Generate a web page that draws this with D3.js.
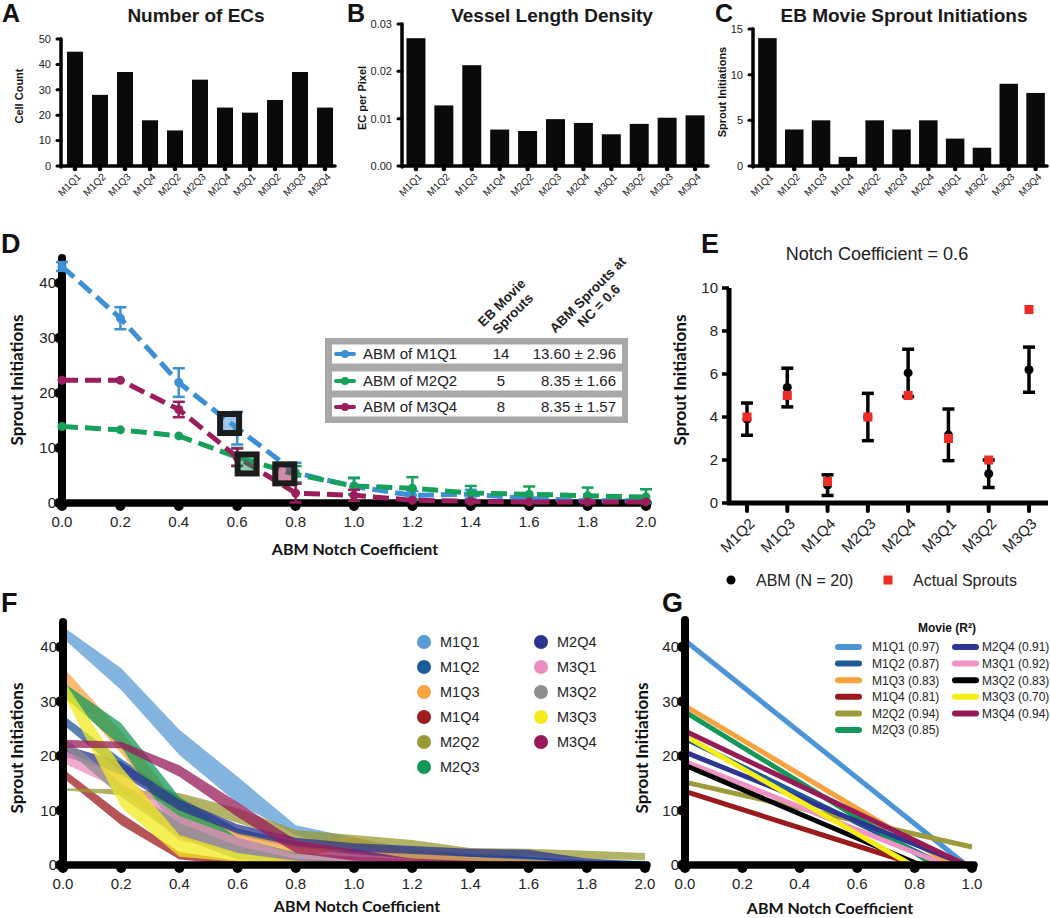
<!DOCTYPE html>
<html><head><meta charset="utf-8">
<script src="https://cdn.jsdelivr.net/npm/d3@7"></script>
<style>body{margin:0;background:#fff}</style>
</head><body>
<script>
// ================= DATA =================
const movies = ["M1Q1","M1Q2","M1Q3","M1Q4","M2Q2","M2Q3","M2Q4","M3Q1","M3Q2","M3Q3","M3Q4"];
const cellCount = [45,28,37,18,14,34,23,21,26,37,23];
const vesselDensity = [0.0270,0.0128,0.0213,0.0077,0.0074,0.0099,0.0091,0.0067,0.0089,0.0102,0.0107];
const ebSprouts = [14,4,5,1,5,4,5,3,2,9,8];
const aTicks = [0,10,20,30,40,50];
const bTicks = [0,0.01,0.02,0.03];
const cTicks = [0,5,10,15];

const ncValues = [0,0.2,0.4,0.6,0.8,1.0,1.2,1.4,1.6,1.8,2.0];
const sproutTicks = [0,10,20,30,40];
// Panel D
const dNames = ["ABM of M1Q1","ABM of M2Q2","ABM of M3Q4"];
const dMean = [
  [43.0,33.6,21.9,13.6,5.5,3.0,1.4,1.6,0.8,0.4,0.4],
  [13.9,13.3,12.2,8.35,5.2,3.1,2.7,1.8,1.6,1.3,1.1],
  [22.3,22.3,17.0,8.35,1.8,1.4,0.5,0.3,0.2,0.2,0.2]
];
const dErr = [
  [0.8,2.0,2.6,2.96,1.8,1.5,0.8,0.8,0.5,0.4,0.3],
  [0.3,0.3,0.3,1.66,1.5,1.5,2.0,1.3,1.4,1.5,1.4],
  [0.3,0.3,1.4,1.57,1.7,1.0,0.5,0.3,0.2,0.2,0.2]
];
const dBoxNC = [0.574,0.634,0.763];
const dBoxVal = [14.45,7.1,5.3];
const dEbMovie = ["14","5","8"];
const dAbmAt06 = ["13.60 ± 2.96","8.35 ± 1.66","8.35 ± 1.57"];
const dHeaders = [["EB Movie","Sprouts"],["ABM Sprouts at","NC = 0.6"]];
// Panel E
const eCats = ["M1Q2","M1Q3","M1Q4","M2Q3","M2Q4","M3Q1","M3Q2","M3Q3"];
const eAbmMean = [3.9,5.37,0.83,4.0,6.05,3.17,1.36,6.2];
const eAbmErr = [0.75,0.9,0.48,1.1,1.1,1.2,0.64,1.05];
const eActual = [4,5,1,4,5,3,2,9];
const eTicks = [0,2,4,6,8,10];
// Panel F (band low / high per movie, at ncValues)
const fLow = [
  [41.6,32.1,20.2,11.3,5.5,2.5,1.0,0.5,0.2,0.1,0.1],
  [25.8,17.0,10.7,5.5,3.1,2.0,1.2,0.8,0.5,0.2,0.1],
  [32.7,20.5,7.5,3.5,1.5,3.0,1.0,0.5,0.2,0.1,0.1],
  [16.0,7.3,1.0,0.0,0.0,0.0,0.0,0.0,0.0,0.0,0.0],
  [13.7,12.8,11.3,7.7,4.6,3.3,2.2,1.8,1.6,1.1,0.9],
  [31.0,21.7,5.1,2.3,0.5,0.2,0.1,0.0,0.0,0.0,0.0],
  [20.0,16.5,10.0,5.8,3.5,2.5,2.0,1.5,1.2,0.2,0.1],
  [18.7,13.8,4.5,2.2,0.2,0.1,0.0,0.0,0.0,0.0,0.0],
  [21.7,12.5,5.0,1.0,0.0,0.0,0.0,0.0,0.0,0.0,0.0],
  [31.5,10.6,1.5,0.6,0.1,0.0,0.0,0.0,0.0,0.0,0.0],
  [21.5,21.4,16.2,8.8,2.2,0.8,0.3,0.2,0.1,0.1,0.1]
];
const fHigh = [
  [43.7,36.1,24.8,16.2,7.3,5.0,3.0,2.2,1.5,1.0,0.8],
  [27.5,19.5,12.5,6.7,4.2,3.5,2.5,2.0,1.5,0.8,0.5],
  [36.3,24.5,11.0,6.0,4.0,5.2,2.5,1.5,1.0,0.5,0.3],
  [17.6,9.5,2.4,0.8,0.4,0.3,0.2,0.1,0.1,0.1,0.1],
  [14.1,13.9,13.2,10.4,6.4,5.5,4.6,3.1,3.0,2.6,2.2],
  [33.5,26.0,12.5,5.0,2.2,1.5,1.0,0.6,0.4,0.3,0.2],
  [22.0,19.0,12.0,7.5,5.0,4.0,3.5,3.0,2.8,1.2,0.6],
  [21.1,16.5,9.0,5.1,2.0,1.5,1.0,0.5,0.3,0.2,0.1],
  [23.5,15.0,7.7,3.5,1.2,0.6,0.3,0.2,0.1,0.1,0.1],
  [34.0,18.0,5.5,2.2,0.8,0.3,0.2,0.1,0.1,0.1,0.1],
  [23.0,22.6,18.3,11.5,4.6,2.8,1.2,0.8,0.6,0.5,0.5]
];
// Panel G (linear fits: value at NC=0, end NC, value at end)
const gStart = [41.2,23.2,29.2,13.5,15.2,28.1,20.7,19.0,18.3,23.7,24.6];
const gEndNC = [0.98,0.90,0.93,0.81,1.0,0.87,0.98,0.91,0.82,0.79,0.98];
const gEndVal = [0,0,0,0,3.3,0,0,0,0,0,0];
const gR2 = ["0.97","0.87","0.83","0.81","0.94","0.85","0.91","0.92","0.83","0.70","0.94"];
const gTicksX = [0,0.2,0.4,0.6,0.8,1.0];

// ================= STYLE =================
const SANS = "'Liberation Sans', Arial, sans-serif";
const HUM = "Lato, 'Open Sans', sans-serif";
const fColors = ["#5a9bd5","#1d5a9a","#f7a443","#9e1b20","#9a9a35","#14985a","#2b3590","#ec8fbf","#8e8e8e","#f2ea1e","#97195a"];
const gColors = ["#4d94d6","#1d5a9a","#f8a23e","#9a1a1d","#9c9a3a","#13985a","#2c3592","#ee93c3","#000000","#f5ef16","#951a56"];
const dColors = ["#3d8fd6","#17a05a","#9b1d5c"];

const svg = d3.select("body").append("svg").attr("width",1050).attr("height",918).style("background","#fff");

function letter(t,x,y,size){
  svg.append("text").attr("x",x).attr("y",y).text(t)
    .attr("font-family",SANS).attr("font-weight","bold").attr("font-size",size||26).attr("fill","#111");
}
function vlabel(t,x,y,size,fam,weight){
  svg.append("text").attr("transform",`translate(${x},${y}) rotate(-90)`).attr("text-anchor","middle")
    .attr("dominant-baseline","central").text(t).attr("font-family",fam||HUM).attr("font-weight",weight||"bold")
    .attr("font-size",size).attr("fill","#111");
}

// ================= A, B, C =================
function barPanel(o){
  const g = svg.append("g");
  const base = 166;
  const x = d3.scaleBand().domain(movies).range([o.x0,o.x1]).paddingInner(o.pad).paddingOuter(o.pad/2);
  const y = d3.scaleLinear().domain([0,o.yMax]).range([base,o.yTop]);
  g.selectAll("rect").data(o.values).join("rect")
    .attr("x",(d,i)=>x(movies[i])).attr("y",d=>y(d))
    .attr("width",x.bandwidth()).attr("height",d=>base-y(d)).attr("fill","#0a0a0a");
  const ax = o.axisX;
  g.append("line").attr("x1",ax).attr("x2",ax).attr("y1",base+1).attr("y2",o.yTop).attr("stroke","#000").attr("stroke-width",3.5).attr("stroke-linecap","round");
  g.append("line").attr("x1",ax).attr("x2",o.xEnd).attr("y1",base).attr("y2",base).attr("stroke","#000").attr("stroke-width",3.5).attr("stroke-linecap","round");
  g.selectAll(".yt").data(o.ticks).join("line").attr("x1",ax-4).attr("x2",ax).attr("y1",d=>y(d)).attr("y2",d=>y(d))
    .attr("stroke","#000").attr("stroke-width",3).attr("stroke-linecap","round");
  g.selectAll(".yl").data(o.ticks).join("text").attr("x",ax-10).attr("y",d=>y(d)).attr("dy","0.35em")
    .attr("text-anchor","end").attr("font-family",SANS).attr("font-size",11).attr("fill","#222").text(o.fmt);
  g.selectAll(".xt").data(movies).join("circle").attr("cx",d=>x(d)+x.bandwidth()/2).attr("cy",base+3).attr("r",2.3).attr("fill","#000");
  g.selectAll(".xl").data(movies).join("text")
    .attr("transform",d=>`translate(${x(d)+x.bandwidth()/2+4},${base+9}) rotate(-45)`)
    .attr("text-anchor","end").attr("dy","0.35em").attr("font-family",SANS).attr("font-size",10).attr("fill","#222").text(d=>d);
  svg.append("text").attr("x",o.titleX).attr("y",22).attr("text-anchor","middle").attr("font-family",SANS)
    .attr("font-weight","bold").attr("font-size",19).attr("fill","#1a1a1a").text(o.title);
  vlabel(o.ylabel,o.ylabelX,o.ylabelY,11,SANS,"bold");
}
barPanel({values:cellCount,x0:62.5,x1:337.5,pad:0.36,axisX:61,xEnd:335,yMax:50,yTop:39,ticks:aTicks,fmt:d3.format("d"),
  title:"Number of ECs",titleX:196,ylabel:"Cell Count",ylabelX:19,ylabelY:96});
barPanel({values:vesselDensity,x0:402,x1:709,pad:0.32,axisX:402,xEnd:708,yMax:0.03,yTop:24,ticks:bTicks,fmt:d3.format(".2f"),
  title:"Vessel Length Density",titleX:552,ylabel:"EC per Pixel",ylabelX:362,ylabelY:98});
barPanel({values:ebSprouts,x0:754,x1:1049,pad:0.31,axisX:753,xEnd:1047,yMax:15,yTop:29,ticks:cTicks,fmt:d3.format("d"),
  title:"EB Movie Sprout Initiations",titleX:904,ylabel:"Sprout Initiations",ylabelX:722,ylabelY:92});
letter("A",2,22,25); letter("B",347,22,25); letter("C",715,22,25);

// ================= thick axes helper (D, F, G) =================
function thickAxes(g,x,y,xTicks,yTicks,xEnd,yTopPx,xFmt){
  const x0 = x(0), y0 = y(0);
  g.append("line").attr("x1",x0).attr("x2",x0).attr("y1",y0).attr("y2",yTopPx).attr("stroke","#000").attr("stroke-width",8).attr("stroke-linecap","round");
  g.append("line").attr("x1",x0).attr("x2",xEnd).attr("y1",y0).attr("y2",y0).attr("stroke","#000").attr("stroke-width",7.5).attr("stroke-linecap","round");
  g.selectAll(".xt").data(xTicks).join("circle").attr("cx",d=>x(d)).attr("cy",y0+3).attr("r",5).attr("fill","#000");
  g.selectAll(".yt").data(yTicks).join("circle").attr("cx",x0-3).attr("cy",d=>y(d)).attr("r",5).attr("fill","#000");
  g.selectAll(".xl").data(xTicks).join("text").attr("x",d=>x(d)).attr("y",y0+24).attr("text-anchor","middle")
    .attr("font-family",SANS).attr("font-size",15).attr("fill","#222").text(xFmt);
  g.selectAll(".yl").data(yTicks).join("text").attr("x",x0-6).attr("y",d=>y(d)).attr("dy","0.36em").attr("text-anchor","end")
    .attr("font-family",SANS).attr("font-size",15).attr("fill","#222").text(d=>d);
}
const f1 = d3.format(".1f");

// ================= D =================
{
  const g = svg.append("g");
  const x = d3.scaleLinear().domain([0,2]).range([62,646]);
  const y = d3.scaleLinear().domain([0,45]).range([503,255.5]);
  thickAxes(g,x,y,ncValues,sproutTicks,648,258,f1);
  const line = d3.line().x((d,i)=>x(ncValues[i])).y(d=>y(d));
  dMean.forEach((s,k)=>{
    g.append("path").attr("d",line(s)).attr("fill","none").attr("stroke",dColors[k]).attr("stroke-width",5).attr("stroke-dasharray","16,7");
    s.forEach((v,i)=>{
      const e = dErr[k][i], cx = x(ncValues[i]);
      if (e > 0.5) {
        g.append("line").attr("x1",cx).attr("x2",cx).attr("y1",y(v+e)).attr("y2",y(Math.max(0,v-e))).attr("stroke",dColors[k]).attr("stroke-width",2.5);
        [v+e, Math.max(0,v-e)].forEach(c=>g.append("line").attr("x1",cx-6).attr("x2",cx+6).attr("y1",y(c)).attr("y2",y(c)).attr("stroke",dColors[k]).attr("stroke-width",2.5));
      }
      g.append("circle").attr("cx",cx).attr("cy",y(v)).attr("r",4.5).attr("fill",dColors[k]);
    });
  });
  dBoxNC.forEach((nc,k)=>{
    g.append("rect").attr("x",x(nc)-9.5).attr("y",y(dBoxVal[k])-9.5).attr("width",19).attr("height",19)
      .attr("fill",dColors[k]).attr("fill-opacity",0.5).attr("stroke","#1c1c1c").attr("stroke-width",6);
  });
  // legend
  g.append("rect").attr("x",325).attr("y",338).attr("width",303).attr("height",85).attr("fill","#a8a8a8");
  const rowY = [354,381,407];
  dNames.forEach((n,k)=>{
    g.append("rect").attr("x",332).attr("y",rowY[k]-9.5).attr("width",290).attr("height",19).attr("fill","#fff");
    g.append("line").attr("x1",336).attr("x2",354).attr("y1",rowY[k]).attr("y2",rowY[k]).attr("stroke",dColors[k]).attr("stroke-width",4).attr("stroke-linecap","round");
    g.append("circle").attr("cx",345).attr("cy",rowY[k]).attr("r",4).attr("fill",dColors[k]);
    g.append("text").attr("x",363).attr("y",rowY[k]).attr("dy","0.36em").attr("font-family",SANS).attr("font-size",15).attr("fill","#222").text(n);
    g.append("text").attr("x",501).attr("y",rowY[k]).attr("dy","0.36em").attr("text-anchor","middle").attr("font-family",SANS).attr("font-size",15).attr("fill","#222").text(dEbMovie[k]);
    g.append("text").attr("x",616).attr("y",rowY[k]).attr("dy","0.36em").attr("text-anchor","end").attr("font-family",SANS).attr("font-size",15).attr("fill","#222").text(dAbmAt06[k]);
  });
  const headPos = [[505,306],[591,298]];
  dHeaders.forEach((h,k)=>{
    const t = g.append("text").attr("transform",`translate(${headPos[k][0]},${headPos[k][1]}) rotate(-45)`)
      .attr("text-anchor","middle").attr("font-family",SANS).attr("font-weight","bold").attr("font-size",13.5).attr("fill","#222");
    h.forEach((line,j)=>t.append("tspan").attr("x",0).attr("dy",j? "1.15em":"0").text(line));
  });
  svg.append("text").attr("x",355).attr("y",555).attr("text-anchor","middle").attr("font-family",HUM).attr("font-weight","bold").attr("font-size",16).attr("fill","#111").text("ABM Notch Coefficient");
  vlabel("Sprout Initiations",16,380,17);
  letter("D",1,253,27);
}

// ================= E =================
{
  const g = svg.append("g");
  const x = d3.scalePoint().domain(eCats).range([747,1029]);
  const y = d3.scaleLinear().domain([0,10]).range([503,288]);
  g.append("line").attr("x1",729).attr("x2",729).attr("y1",505).attr("y2",y(10)).attr("stroke","#000").attr("stroke-width",5);
  g.append("line").attr("x1",727).attr("x2",1048).attr("y1",503).attr("y2",503).attr("stroke","#000").attr("stroke-width",5);
  g.selectAll(".yt").data(eTicks).join("line").attr("x1",722).attr("x2",729).attr("y1",d=>y(d)).attr("y2",d=>y(d)).attr("stroke","#000").attr("stroke-width",3.5);
  g.selectAll(".yl").data(eTicks).join("text").attr("x",718).attr("y",d=>y(d)).attr("dy","0.36em").attr("text-anchor","end")
    .attr("font-family",SANS).attr("font-size",15).attr("fill","#222").text(d=>d);
  g.selectAll(".xt").data(eCats).join("line").attr("x1",d=>x(d)).attr("x2",d=>x(d)).attr("y1",503).attr("y2",511).attr("stroke","#000").attr("stroke-width",4).attr("stroke-linecap","round");
  g.selectAll(".xl").data(eCats).join("text").attr("transform",d=>`translate(${x(d)+5},${521}) rotate(-45)`)
    .attr("text-anchor","end").attr("dy","0.35em").attr("font-family",SANS).attr("font-size",15).attr("fill","#222").text(d=>d);
  eCats.forEach((c,i)=>{
    const cx = x(c), m = eAbmMean[i], e = eAbmErr[i];
    g.append("line").attr("x1",cx).attr("x2",cx).attr("y1",y(m+e)).attr("y2",y(m-e)).attr("stroke","#000").attr("stroke-width",3.5);
    [m+e,m-e].forEach(v=>g.append("line").attr("x1",cx-6).attr("x2",cx+6).attr("y1",y(v)).attr("y2",y(v)).attr("stroke","#000").attr("stroke-width",3.5));
    g.append("circle").attr("cx",cx).attr("cy",y(m)).attr("r",4.5).attr("fill","#000");
  });
  g.selectAll(".act").data(eActual).join("rect").attr("x",(d,i)=>x(eCats[i])-4.5).attr("y",d=>y(d)-4.5).attr("width",9).attr("height",9).attr("fill","#ee2b24");
  svg.append("text").attr("x",877).attr("y",260).attr("text-anchor","middle").attr("font-family",SANS).attr("font-size",18).attr("fill","#222").text("Notch Coefficient = 0.6");
  vlabel("Sprout Initiations",679,380,17);
  g.append("circle").attr("cx",731).attr("cy",580).attr("r",4.5).attr("fill","#000");
  g.append("text").attr("x",756).attr("y",580).attr("dy","0.36em").attr("font-family",SANS).attr("font-size",16).attr("fill","#222").text("ABM (N = 20)");
  g.append("rect").attr("x",883.5).attr("y",575.5).attr("width",9).attr("height",9).attr("fill","#ee2b24");
  g.append("text").attr("x",913).attr("y",580).attr("dy","0.36em").attr("font-family",SANS).attr("font-size",16).attr("fill","#222").text("Actual Sprouts");
  letter("E",701,253,27);
}

// ================= F =================
{
  const g = svg.append("g");
  const x = d3.scaleLinear().domain([0,2]).range([63,645]);
  const y = d3.scaleLinear().domain([0,45]).range([865,865-45*5.45]);
  const area = d3.area().x((d,i)=>x(ncValues[i])).y0(d=>y(d[0])).y1(d=>y(d[1]));
  movies.forEach((m,k)=>{
    const pts = fLow[k].map((lo,i)=>[lo,fHigh[k][i]]);
    g.append("path").attr("d",area(pts)).attr("fill",fColors[k]).attr("fill-opacity",0.75);
  });
  thickAxes(g,x,y,ncValues,sproutTicks,647,622,f1);
  movies.forEach((m,k)=>{
    const col = k<6?0:1, row = k<6?k:k-6;
    const cx = col?541:424, cy = 642+row*25;
    g.append("circle").attr("cx",cx).attr("cy",cy).attr("r",7).attr("fill",fColors[k]);
    g.append("text").attr("x",cx+16).attr("y",cy).attr("dy","0.36em").attr("font-family",SANS).attr("font-size",14.5).attr("fill","#222").text(m);
  });
  svg.append("text").attr("x",357).attr("y",912).attr("text-anchor","middle").attr("font-family",HUM).attr("font-weight","bold").attr("font-size",16).attr("fill","#111").text("ABM Notch Coefficient");
  vlabel("Sprout Initiations",16,748,17);
  letter("F",1,612,27);
}

// ================= G =================
{
  const g = svg.append("g");
  const x = d3.scaleLinear().domain([0,1]).range([685,972]);
  const y = d3.scaleLinear().domain([0,45]).range([865,865-45*5.45]);
  movies.forEach((m,k)=>{
    g.append("line").attr("x1",x(0)).attr("y1",y(gStart[k])).attr("x2",x(gEndNC[k])).attr("y2",y(gEndVal[k]))
      .attr("stroke",gColors[k]).attr("stroke-width",5);
  });
  thickAxes(g,x,y,gTicksX,sproutTicks,974,620,f1);
  svg.append("text").attr("x",947).attr("y",632).attr("text-anchor","middle").attr("font-family",SANS).attr("font-weight","bold").attr("font-size",12).attr("fill","#111").text("Movie (R²)");
  movies.forEach((m,k)=>{
    const col = k<6?0:1, row = k<6?k:k-6;
    const sx = col?955:838, cy = 647+row*16.6;
    g.append("line").attr("x1",sx).attr("x2",sx+21).attr("y1",cy).attr("y2",cy).attr("stroke",gColors[k]).attr("stroke-width",6).attr("stroke-linecap","round");
    g.append("text").attr("x",col?982:872).attr("y",cy).attr("dy","0.36em").attr("font-family",SANS).attr("font-size",12).attr("fill","#222").text(`${m} (${gR2[k]})`);
  });
  svg.append("text").attr("x",830).attr("y",914).attr("text-anchor","middle").attr("font-family",HUM).attr("font-weight","bold").attr("font-size",16).attr("fill","#111").text("ABM Notch Coefficient");
  vlabel("Sprout Initiations",641,748,17);
  letter("G",662,612,27);
}
</script>
</body></html>
